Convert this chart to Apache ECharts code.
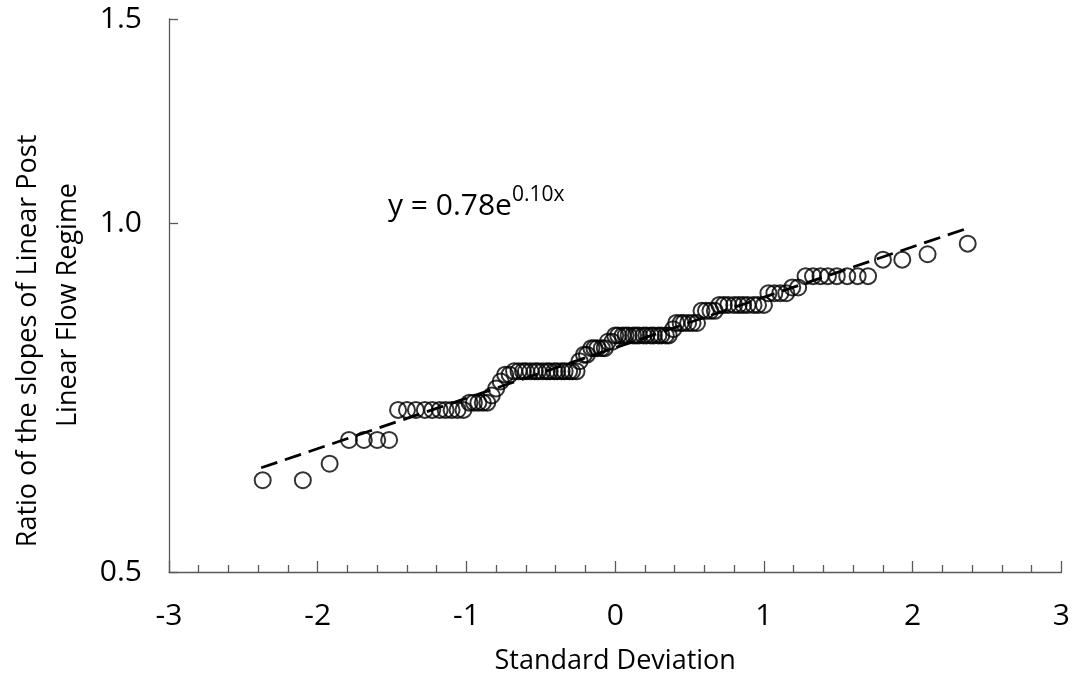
<!DOCTYPE html>
<html>
<head>
<meta charset="utf-8">
<script src="https://cdn.jsdelivr.net/npm/echarts@6/dist/echarts.min.js"></script>
<style>
  html, body { margin: 0; padding: 0; background: #fff; }
  #chart { width: 1073px; height: 680px; }
</style>
</head>
<body>
<div id="chart"></div>
<script>
// standard deviation (normal score) of each sample
var zScores = [
  -2.37, -2.10, -1.92, -1.79, -1.69, -1.60, -1.52,
  -1.46, -1.40, -1.34, -1.28, -1.23, -1.18, -1.14, -1.10, -1.06, -1.02,
  -0.98, -0.95, -0.92, -0.89, -0.86,
  -0.83, -0.80, -0.77, -0.74, -0.71,
  -0.68, -0.65, -0.62, -0.60, -0.57, -0.54, -0.52, -0.49, -0.46, -0.44, -0.41, -0.39, -0.36, -0.34, -0.31, -0.29, -0.26,
  -0.24, -0.21, -0.19, -0.16, -0.14, -0.12, -0.09, -0.07, -0.05, -0.02,
  0.00, 0.02, 0.05, 0.07, 0.09, 0.12, 0.14, 0.16, 0.19, 0.21, 0.24, 0.26, 0.29, 0.31, 0.34, 0.36,
  0.39, 0.41, 0.44, 0.46, 0.49, 0.52, 0.55,
  0.58, 0.61, 0.64, 0.67,
  0.70, 0.73, 0.76, 0.80, 0.83, 0.86, 0.89, 0.93, 0.96, 1.00,
  1.03, 1.07, 1.11, 1.15,
  1.19, 1.23,
  1.28, 1.33, 1.38, 1.43, 1.49, 1.56, 1.63, 1.70,
  1.80, 1.93, 2.10, 2.37
];
// ratio of the slopes for the same samples
var ratios = [
  0.60, 0.60, 0.62, 0.65, 0.65, 0.65, 0.65,
  0.69, 0.69, 0.69, 0.69, 0.69, 0.69, 0.69, 0.69, 0.69, 0.69,
  0.70, 0.70, 0.70, 0.70, 0.70,
  0.71, 0.72, 0.73, 0.74, 0.74,
  0.745, 0.745, 0.745, 0.745, 0.745, 0.745, 0.745, 0.745, 0.745, 0.745, 0.745, 0.745, 0.745, 0.745, 0.745, 0.745, 0.745,
  0.76, 0.77, 0.77, 0.78, 0.78, 0.78, 0.78, 0.78, 0.79, 0.79,
  0.80, 0.80, 0.80, 0.80, 0.80, 0.80, 0.80, 0.80, 0.80, 0.80, 0.80, 0.80, 0.80, 0.80, 0.80, 0.80,
  0.81, 0.82, 0.82, 0.82, 0.82, 0.82, 0.82,
  0.84, 0.84, 0.84, 0.84,
  0.85, 0.85, 0.85, 0.85, 0.85, 0.85, 0.85, 0.85, 0.85, 0.85,
  0.87, 0.87, 0.87, 0.87,
  0.88, 0.88,
  0.90, 0.90, 0.90, 0.90, 0.90, 0.90, 0.90, 0.90,
  0.93, 0.93, 0.94, 0.96
];
// ends of the exponential trend line (straight on the log axis)
var trendX = [-2.38, 2.37];
var trendY = [0.615, 0.99];
var yTicks = [0.5, 1.0, 1.5];

var font = 'Open Sans';
var ink = '#000';
var axisGrey = '#595959';

var points = zScores.map(function (x, i) { return [x, ratios[i]]; });
var trend = trendX.map(function (x, i) { return [x, trendY[i]]; });

var chart = echarts.init(document.getElementById('chart'));
var option = {
  animation: false,
  grid: { left: 169, right: 11, top: 19, bottom: 108, containLabel: false },
  xAxis: {
    type: 'value',
    min: -3,
    max: 3,
    interval: 1,
    name: 'Standard Deviation',
    nameLocation: 'middle',
    nameGap: 76,
    nameTextStyle: { fontFamily: font, fontSize: 27, color: ink },
    axisLine: { onZero: false, lineStyle: { color: axisGrey, width: 1.3 } },
    axisTick: { inside: true, length: 11, lineStyle: { color: axisGrey, width: 1.3 } },
    minorTick: { show: true, splitNumber: 5, length: 7, lineStyle: { color: axisGrey, width: 1.3 } },
    splitLine: { show: false },
    axisLabel: { margin: 29, fontFamily: font, fontSize: 30, color: ink }
  },
  yAxis: {
    type: 'log',
    logBase: 10,
    min: 0.5,
    max: 1.5,
    axisLine: { onZero: false, lineStyle: { color: axisGrey, width: 1.3 } },
    axisTick: { inside: true, length: 9, customValues: yTicks, lineStyle: { color: axisGrey, width: 1.3 } },
    minorTick: { show: false },
    splitLine: { show: false },
    axisLabel: {
      customValues: yTicks,
      margin: 27,
      fontFamily: font,
      fontSize: 30,
      color: ink,
      formatter: function (v) { return Number(v).toFixed(1); }
    }
  },
  graphic: [
    {
      type: 'text',
      x: 28, y: 341, rotation: Math.PI / 2,
      style: { text: 'Ratio of the slopes of Linear Post', font: '27px "Open Sans"', fill: ink, align: 'center', verticalAlign: 'middle' }
    },
    {
      type: 'text',
      x: 68, y: 305, rotation: Math.PI / 2,
      style: { text: 'Linear Flow Regime', font: '27px "Open Sans"', fill: ink, align: 'center', verticalAlign: 'middle' }
    },
    {
      type: 'text',
      left: 388, top: 185,
      style: {
        text: '{a|y = 0.78e}{b|0.10x}',
        fill: ink,
        rich: {
          a: { fontFamily: font, fontSize: 30, fill: ink },
          b: { fontFamily: font, fontSize: 21, fill: ink, padding: [0, 0, 21, 0] }
        }
      }
    }
  ],
  series: [
    {
      type: 'line',
      data: trend,
      symbol: 'none',
      z: 1,
      lineStyle: { color: '#000', width: 2.8, type: [17, 8] }
    },
    {
      type: 'scatter',
      data: points,
      symbol: 'circle',
      symbolSize: 16,
      z: 2,
      itemStyle: { color: 'rgba(0,0,0,0)', borderColor: '#000', borderWidth: 2 }
    }
  ]
};
chart.setOption(option);
</script>
</body>
</html>
